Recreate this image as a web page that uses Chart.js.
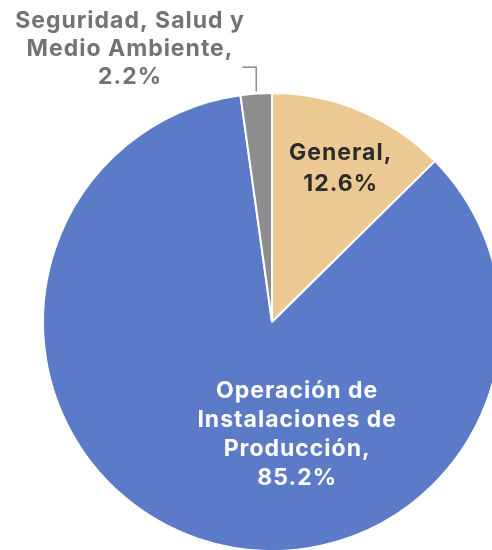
<!DOCTYPE html>
<html>
<head>
<meta charset="utf-8">
<script src="https://cdn.jsdelivr.net/npm/chart.js@4"></script>
<style>
  html, body { margin: 0; padding: 0; background: #fff; overflow: hidden; }
  #frame { position: relative; width: 492px; height: 550px; overflow: hidden; }
  #box { position: absolute; left: 0; top: 0; width: 544px; height: 644px; }
</style>
</head>
<body>
<div id="frame"><div id="box"><canvas id="pieChart"></canvas></div></div>
<script>
// Datos del gráfico
const categorias = ['General', 'Operación de Instalaciones de Producción', 'Seguridad, Salud y Medio Ambiente'];
const porcentajes = [12.6, 85.2, 2.2];
const etiquetas = [
  ['General,', '12.6%'],
  ['Operación de', 'Instalaciones de', 'Producción,', '85.2%'],
  ['Seguridad, Salud y', 'Medio Ambiente,', '2.2%']
];
const colores = ['#ecc893', '#5b7bc8', '#8d8d90'];

// posicion de cada etiqueta relativa al centro, en fracciones del radio
const posEtiquetas = [
  { dx: 0.30, dy: -0.67, color: '#2b2b2b', lh: 31 },
  { dx: 0.11, dy: 0.49, color: '#ffffff', lh: 29 },
  { dx: -0.62, dy: -1.19, color: '#737373', lh: 28 }
];

const etiquetasPlugin = {
  id: 'etiquetas',
  afterDatasetsDraw(chart) {
    const c = chart.ctx;
    const arcs = chart.getDatasetMeta(0).data;
    c.save();
    c.font = 'bold 23px Inter';
    c.letterSpacing = '1px';
    c.textAlign = 'center';
    c.textBaseline = 'middle';
    arcs.forEach((arc, i) => {
      const p = posEtiquetas[i];
      const r = arc.outerRadius;
      const cx = arc.x + p.dx * r;
      const cy = arc.y + p.dy * r;
      const lines = etiquetas[i];
      c.fillStyle = p.color;
      lines.forEach((t, j) => {
        c.fillText(t, cx, cy + (j - (lines.length - 1) / 2) * p.lh);
      });
    });
    // linea guía para la porción pequeña
    const a = arcs[2];
    const mid = (a.startAngle + a.endAngle) / 2;
    const px = a.x + Math.cos(mid) * a.outerRadius;
    const py = a.y + Math.sin(mid) * a.outerRadius;
    c.strokeStyle = '#6e6e6e';
    c.lineWidth = 1.2;
    c.beginPath();
    c.moveTo(px, py - 2);
    c.lineTo(px, py - 0.115 * a.outerRadius);
    c.lineTo(px - 0.06 * a.outerRadius, py - 0.115 * a.outerRadius);
    c.stroke();
    c.restore();
  }
};

new Chart(document.getElementById('pieChart').getContext('2d'), {
  type: 'pie',
  data: {
    labels: categorias,
    datasets: [{
      data: porcentajes,
      backgroundColor: colores,
      borderColor: '#ffffff',
      borderWidth: 2
    }]
  },
  options: {
    responsive: true,
    maintainAspectRatio: false,
    animation: false,
    layout: { padding: { left: 42, right: 42, top: 92, bottom: 92 } },
    plugins: {
      legend: { display: false },
      tooltip: { enabled: false }
    }
  },
  plugins: [etiquetasPlugin]
});
</script>
</body>
</html>
